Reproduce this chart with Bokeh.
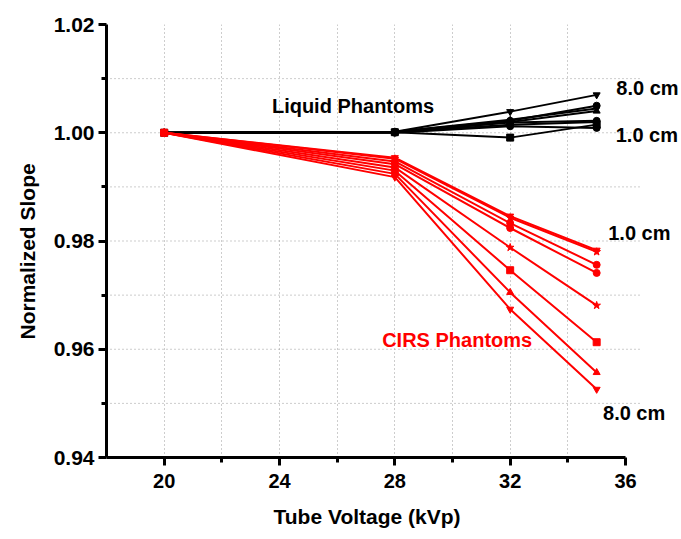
from bokeh.plotting import figure
from bokeh.models import Range1d, FixedTicker, Label, CustomJSTickFormatter, Title
from bokeh.embed import file_html
from bokeh.resources import INLINE

kv = [20, 28, 32, 35]
thickness_cm = [1, 2, 3, 4, 5, 6, 7, 8]

liquid = [
    [1.0, 1.0000, 1.0012, 1.0009],
    [1.0, 1.0001, 0.9991, 1.0015],
    [1.0, 1.0001, 1.0015, 1.0020],
    [1.0, 1.0001, 1.0019, 1.0022],
    [1.0, 1.0001, 1.0020, 1.0040],
    [1.0, 1.0002, 1.0024, 1.0045],
    [1.0, 1.0002, 1.0022, 1.0050],
    [1.0, 1.0002, 1.0039, 1.0070],
]
cirs = [
    [1.0, 0.9954, 0.9846, 0.9783],
    [1.0, 0.9952, 0.9843, 0.9780],
    [1.0, 0.9947, 0.9833, 0.9756],
    [1.0, 0.9942, 0.9824, 0.9741],
    [1.0, 0.9936, 0.9788, 0.9681],
    [1.0, 0.9930, 0.9746, 0.9613],
    [1.0, 0.9924, 0.9705, 0.9557],
    [1.0, 0.9918, 0.9674, 0.9526],
]
liquid_markers = ["circle", "square", "diamond", "circle", "triangle", "diamond", "circle", "inverted_triangle"]
cirs_markers = ["inverted_triangle", "star", "circle", "circle", "star", "square", "triangle", "inverted_triangle"]

x_major = [20, 24, 28, 32, 36]
x_minor = [22, 26, 30, 34]
x_grid = [20, 22, 24, 26, 28, 30, 32, 34]
y_major = [0.94, 0.96, 0.98, 1.00, 1.02]
y_minor = [0.95, 0.97, 0.99, 1.01]
y_grid = [0.95, 0.96, 0.97, 0.98, 0.99, 1.00, 1.01]

x_title = "Tube Voltage (kVp)"
y_title = "Normalized Slope"

FONT = "Liberation Sans"

W, H = 681, 539
LEFT, TOP, BOTTOM = 106, 24, 81
X0, X1 = 18, 36
px_per_unit = (625 - LEFT) / (X1 - X0)
x_end = X1 + (W - 625) / px_per_unit

p = figure(width=W, height=H, output_backend="svg", toolbar_location=None,
           x_range=Range1d(X0, x_end), y_range=Range1d(0.94, 1.02),
           min_border_left=LEFT, min_border_right=0, min_border_top=TOP, min_border_bottom=BOTTOM)
p.outline_line_color = None
p.background_fill_color = "white"

p.xgrid[0].ticker = FixedTicker(ticks=x_grid)
p.xgrid[0].grid_line_color = "#9a9a9a"
p.xgrid[0].grid_line_dash = "1 3"
p.ygrid[0].visible = False

# horizontal dotted grid lines, ending a little beyond the x axis
p.segment(x0=[X0] * len(y_grid), x1=[X1 + 0.5] * len(y_grid), y0=y_grid, y1=y_grid,
          line_color="#9a9a9a", line_dash="1 3", line_width=1)

p.xaxis.ticker = FixedTicker(ticks=x_major, minor_ticks=x_minor)
p.yaxis.ticker = FixedTicker(ticks=y_major, minor_ticks=y_minor)
p.yaxis.formatter = CustomJSTickFormatter(code="return tick.toFixed(2);")
p.xaxis.bounds = (X0, X1)

for ax in (p.xaxis[0], p.yaxis[0]):
    ax.axis_line_width = 3
    ax.axis_line_color = "black"
    ax.major_tick_line_width = 3
    ax.minor_tick_line_width = 3
    ax.major_tick_out = 8
    ax.major_tick_in = 0
    ax.minor_tick_out = 5
    ax.minor_tick_in = 0
    ax.major_label_text_font = FONT
    ax.major_label_text_font_style = "bold"
    ax.major_label_text_color = "black"

p.xaxis.major_label_text_font_size = "20px"
p.yaxis.major_label_text_font_size = "21px"
p.xaxis.major_label_standoff = 8
p.yaxis.major_label_standoff = 4

p.add_layout(Title(text=x_title, align="left", offset=167, standoff=24,
                   text_font=FONT, text_font_style="bold", text_font_size="21px",
                   text_color="black"), "below")
p.add_layout(Title(text=y_title, align="left", offset=118, standoff=24,
                   text_font=FONT, text_font_style="bold", text_font_size="21px",
                   text_color="black"), "left")

for ys, m in zip(liquid, liquid_markers):
    p.line(kv, ys, line_color="black", line_width=2)
    p.scatter(kv, ys, marker=m, size=7, fill_color="black", line_color="black")

for ys, m in zip(cirs, cirs_markers):
    p.line(kv, ys, line_color="#ff0000", line_width=2)
    p.scatter(kv, ys, marker=m, size=8 if m == "star" else 7, fill_color="#ff0000", line_color="#ff0000")

def lab(x, y, t, color, align="left"):
    p.add_layout(Label(x=x, y=y, text=t, text_color=color, text_font=FONT,
                       text_font_style="bold", text_font_size="20px",
                       text_align=align, text_baseline="middle"))

lab(26.55, 1.0050, "Liquid Phantoms", "black", "center")
lab(35.68, 1.0083, "8.0 cm", "black")
lab(35.66, 0.9996, "1.0 cm", "black")
lab(35.40, 0.9815, "1.0 cm", "black")
lab(27.56, 0.9617, "CIRS Phantoms", "#ff0000")
lab(35.22, 0.9483, "8.0 cm", "black")

open("out.html", "w").write(file_html(p, INLINE))
